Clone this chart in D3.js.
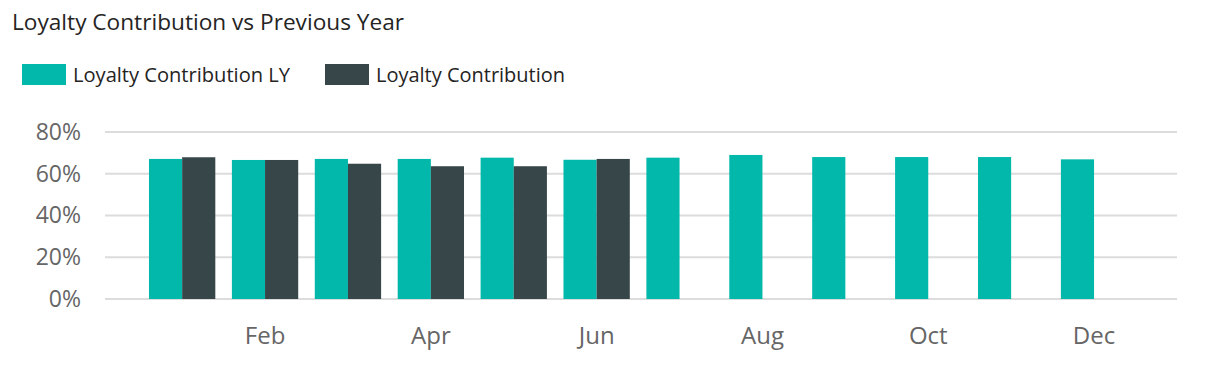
<!DOCTYPE html>
<html><head><meta charset="utf-8">
<script src="https://cdn.jsdelivr.net/npm/d3@7"></script>
<style>
body{margin:0;background:#fff;}
svg text{font-family:"Segoe UI","Open Sans","Noto Sans",sans-serif;}
</style></head>
<body><svg id="c" width="1220" height="380"></svg>
<script>
const months = ["Jan","Feb","Mar","Apr","May","Jun","Jul","Aug","Sep","Oct","Nov","Dec"];
const loyaltyLY = [67.1,66.6,67.1,67.1,67.7,66.7,67.7,69.0,68.0,68.0,68.0,66.9];
const loyaltyCur = [67.9,66.6,64.8,63.6,63.6,67.1,null,null,null,null,null,null];
const seriesNames = ["Loyalty Contribution LY","Loyalty Contribution"];
const yTicks = [0,20,40,60,80];
const xTickLabels = ["Feb","Apr","Jun","Aug","Oct","Dec"];
const colors = ["#01B8AA","#374649"];

const svg = d3.select("#c");
svg.append("text").attr("x",12).attr("y",30).attr("font-size",22.5).attr("fill","#252423")
  .attr("textLength",392).attr("lengthAdjust","spacingAndGlyphs")
  .text("Loyalty Contribution vs Previous Year");

const leg = svg.append("g");
const legX = [22,325];
const legW = [217,189];
seriesNames.forEach((n,i)=>{
  leg.append("rect").attr("x",legX[i]).attr("y",64).attr("width",44).attr("height",21).attr("fill",colors[i]);
  leg.append("text").attr("x",legX[i]+51).attr("y",82).attr("font-size",20).attr("fill","#252423")
    .attr("textLength",legW[i]).attr("lengthAdjust","spacingAndGlyphs").text(n);
});

const y = d3.scaleLinear().domain([0,80]).range([299,132]);
const x = d3.scaleBand().domain(months).range([140.7,1135.5]).paddingInner(0.2).paddingOuter(0.1);
const xs = d3.scaleBand().domain([0,1]).range([0,x.bandwidth()]);

const grid = svg.append("g");
grid.selectAll("line").data(yTicks).join("line")
  .attr("x1",105).attr("x2",1177).attr("y1",d=>y(d)).attr("y2",d=>y(d))
  .attr("stroke","#dcdcdc").attr("stroke-width",2);

const yAxis = svg.append("g").attr("transform","translate(81,0)")
  .call(d3.axisLeft(y).tickValues(yTicks).tickFormat(d=>d+"%").tickSize(0).tickPadding(0));
yAxis.select(".domain").remove();
yAxis.selectAll("text").attr("font-size",23).attr("fill","#666").attr("font-family",null);

const data = months.map((m,i)=>({m, vals:[loyaltyLY[i],loyaltyCur[i]]}));
const g = svg.append("g");
data.forEach(d=>{
  d.vals.forEach((v,k)=>{
    if(v==null) return;
    g.append("rect").attr("x",x(d.m)+xs(k)).attr("width",xs.bandwidth())
      .attr("y",y(v)).attr("height",y(0)-y(v)).attr("fill",colors[k]);
  });
});

const xAxis = svg.append("g").attr("transform","translate(0,318)")
  .call(d3.axisBottom(x).tickValues(xTickLabels).tickSize(0).tickPadding(0));
xAxis.select(".domain").remove();
xAxis.selectAll("text").attr("font-size",24).attr("fill","#666").attr("font-family",null).attr("dy","1.1em");
</script></body></html>
